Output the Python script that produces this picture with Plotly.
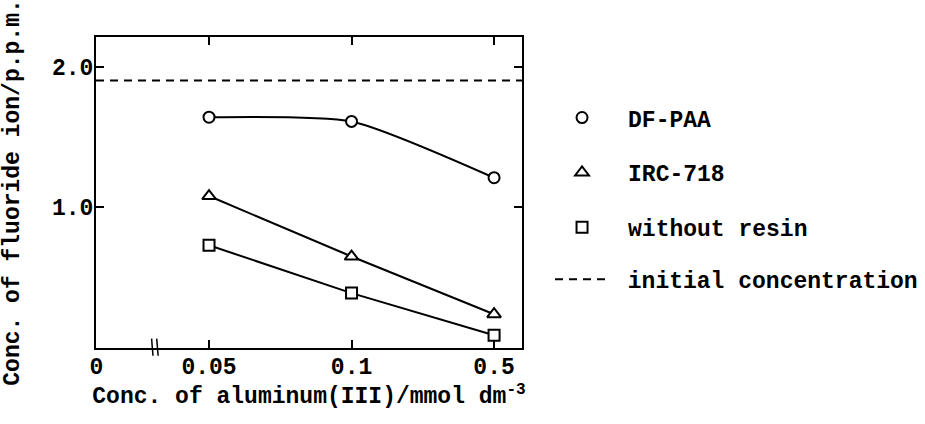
import plotly.graph_objects as go

# ---- data ----
categories = ["0.05", "0.1", "0.5"]
cat_pos = [1, 2, 3]                     # equally spaced category positions
df_paa = [1.64, 1.61, 1.21]
irc_718 = [1.08, 0.65, 0.24]
without_resin = [0.73, 0.39, 0.09]
initial_conc = 1.90

x_tick_vals = [0.21, 1, 2, 3]
x_tick_text = ["0", "0.05", "0.1", "0.5"]
x_range = [0.207, 3.196]
y_range = [0, 2.21]
y_tick_vals = [1.0, 2.0]
y_tick_text = ["1.0", "2.0"]

FONT = "Liberation Mono"
FS = 23
TXT = dict(family=FONT, size=FS, color="black", weight="bold")

fig = go.Figure()

# lines (not in legend)
fig.add_trace(go.Scatter(x=cat_pos, y=df_paa, mode="lines", line=dict(color="black", width=2, shape="spline", smoothing=0.6),
                         showlegend=False, hoverinfo="skip"))
fig.add_trace(go.Scatter(x=cat_pos, y=irc_718, mode="lines", line=dict(color="black", width=2),
                         showlegend=False, hoverinfo="skip"))
fig.add_trace(go.Scatter(x=cat_pos, y=without_resin, mode="lines", line=dict(color="black", width=2),
                         showlegend=False, hoverinfo="skip"))

# markers (legend)
mk = dict(color="white", line=dict(color="black", width=2))
fig.add_trace(go.Scatter(x=cat_pos, y=df_paa, mode="markers", name="DF-PAA", legendgroup="a",
                         marker=dict(symbol="circle", size=11, **mk)))
fig.add_trace(go.Scatter(x=cat_pos, y=irc_718, mode="markers", name="IRC-718", legendgroup="b",
                         marker=dict(symbol="triangle-up", size=12, **mk)))
fig.add_trace(go.Scatter(x=cat_pos, y=without_resin, mode="markers", name="without resin", legendgroup="c",
                         marker=dict(symbol="square", size=11, **mk)))

# initial concentration dashed line
fig.add_trace(go.Scatter(x=x_range, y=[initial_conc, initial_conc], mode="lines", name="\u00a0initial concentration",
                         line=dict(color="black", width=2, dash="8px,6px"), legend="legend2"))

# axis break marks
for dx in (-0.018, 0.018):
    fig.add_shape(type="line", xref="x", yref="paper", x0=0.625 + dx, x1=0.625 + dx - 0.01, y0=-0.025, y1=0.03,
                  line=dict(color="black", width=1.5))

axis_common = dict(showline=True, linecolor="black", linewidth=2, mirror="ticks", ticks="inside",
                   ticklen=8, tickwidth=2, tickcolor="black", showgrid=False, zeroline=False,
                   tickfont=TXT)

fig.update_xaxes(range=x_range, tickvals=x_tick_vals, ticktext=x_tick_text, ticklabelstandoff=-4,
                 title=dict(text="Conc. of aluminum(III)/mmol dm<sup>-3</sup>", font=TXT, standoff=0),
                 **axis_common)
fig.update_yaxes(range=y_range, tickvals=y_tick_vals, ticktext=y_tick_text, ticklabelstandoff=-4,
                 title=dict(text="Conc. of fluoride ion/p.p.m.", font=TXT, standoff=26),
                 **axis_common)

fig.update_layout(
    width=925, height=424,
    margin=dict(l=96, r=403, t=37, b=76, autoexpand=False),
    plot_bgcolor="white", paper_bgcolor="white",
    font=TXT,
    legend=dict(xref="container", x=0.5795, xanchor="left", y=0.81, yanchor="top", itemwidth=82, tracegroupgap=22,
                font=TXT, bgcolor="rgba(0,0,0,0)"),
    legend2=dict(xref="container", x=0.5946, xanchor="left", y=0.29, yanchor="top", itemwidth=54,
                 font=TXT, bgcolor="rgba(0,0,0,0)"),
)

fig.write_html("out.html")
